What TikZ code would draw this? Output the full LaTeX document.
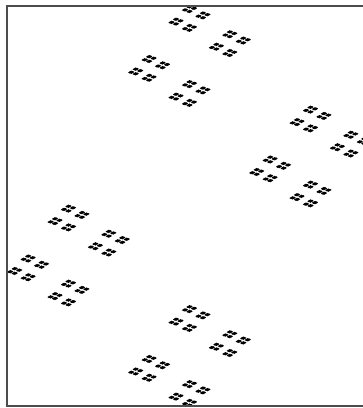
\documentclass[tikz,border=0pt]{standalone}
\begin{document}
\begin{tikzpicture}[x=1pt,y=-1pt,
  dotstyle/.style={fill=black},
  framestyle/.style={draw=black!70,line width=1.3pt}]
\useasboundingbox (0,0) rectangle (363,408);
\clip (0,0) rectangle (363,408);
\def\V{0/-150,0/150,121/-49.5,-121/49.5}
\begin{scope}
\clip (7,6) rectangle (372,406);
\foreach \ax/\ay in \V {
 \foreach \bx/\by in \V {
  \foreach \cx/\cy in \V {
   \foreach \dx/\dy in \V {
    \foreach \ex/\ey in \V {
      \fill[dotstyle] ({189.5+\ax+\bx/3+\cx/9+\dx/27+\ex/81},{206+\ay+\by/4+\cy/16+\dy/64+\ey/256}) ellipse (1.6 and 1.15);
}}}}}
\end{scope}
\draw[framestyle] (7,6) rectangle (372,406);
\end{tikzpicture}
\end{document}
